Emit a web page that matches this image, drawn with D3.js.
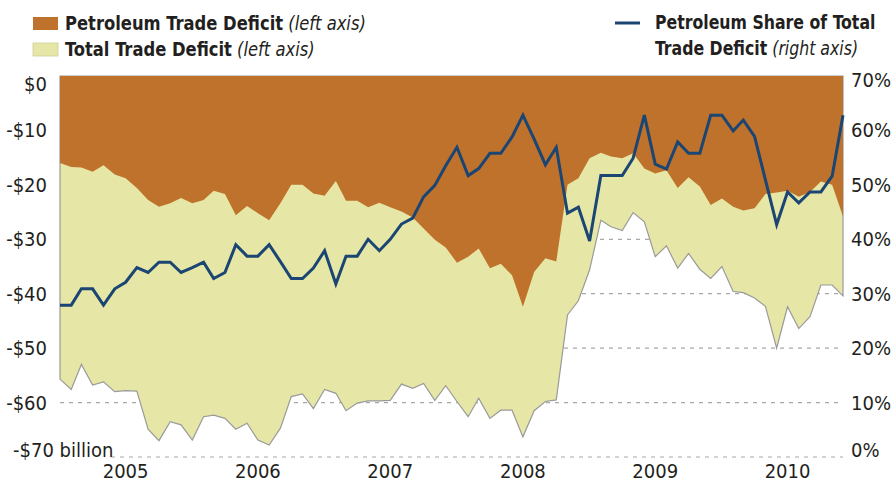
<!DOCTYPE html>
<html>
<head>
<meta charset="utf-8">
<script src="https://cdn.jsdelivr.net/npm/d3@7"></script>
<style>
  html, body { margin: 0; padding: 0; background: #fff; }
  svg text { font-family: "DejaVu Sans Condensed", "Liberation Sans Narrow", sans-serif; fill: #231f20; }
</style>
</head>
<body>
<svg id="chart" width="895" height="490"></svg>
<script>
// Monthly data, Jan 2005 – Dec 2010 (billions of dollars, negative = deficit)
const startYear = 2005;
const petroleumDeficit = [
  -16.0, -16.7, -16.8, -17.6, -16.4, -18.1, -18.8, -20.6, -22.8, -24.0, -23.4, -22.4,
  -23.4, -22.8, -21.1, -21.7, -25.6, -23.9, -25.2, -26.5, -23.4, -20.0, -20.0, -21.6,
  -22.0, -19.3, -22.9, -22.9, -24.1, -23.3, -24.1, -24.9, -26.0, -28.0, -30.1, -31.5,
  -34.3, -33.2, -31.7, -35.3, -34.5, -36.6, -42.4, -36.0, -33.5, -34.1, -20.0, -18.8,
  -15.1, -14.1, -14.8, -15.1, -14.2, -17.0, -17.9, -17.3, -20.6, -18.6, -20.3, -23.7,
  -22.5, -24.0, -24.7, -24.3, -21.7, -21.4, -21.1, -22.2, -21.3, -19.4, -20.0, -25.8
];
const totalDeficit = [
  -55.7, -57.6, -53.0, -56.8, -56.2, -58.0, -57.8, -57.9, -64.9, -67.0, -63.5, -64.1,
  -66.9, -62.6, -62.3, -62.9, -64.9, -63.8, -66.9, -67.8, -64.7, -58.9, -58.4, -61.1,
  -57.6, -58.3, -61.5, -60.1, -59.7, -59.7, -59.6, -56.6, -57.4, -56.5, -59.6, -56.9,
  -59.8, -62.6, -59.2, -62.9, -61.4, -61.4, -66.3, -61.5, -59.8, -59.5, -43.9, -41.3,
  -35.6, -26.5, -27.7, -28.4, -25.1, -26.8, -33.2, -31.2, -35.3, -32.6, -35.5, -37.2,
  -35.0, -39.6, -39.8, -40.8, -42.3, -50.0, -42.4, -46.4, -44.2, -38.4, -38.4, -40.4
];
const petroleumShare = [
  27.9, 27.9, 30.9, 30.9, 27.9, 30.9, 32.1, 34.8, 33.9, 35.8, 35.8, 33.9,
  34.8, 35.8, 32.8, 33.9, 39.0, 36.9, 36.9, 39.0, 35.9, 32.8, 32.8, 34.7,
  37.9, 31.8, 36.9, 36.9, 40.0, 37.9, 40.0, 42.8, 43.9, 47.8, 49.9, 53.5,
  56.9, 51.7, 53.0, 55.8, 55.8, 58.8, 62.8, 58.4, 53.7, 56.9, 44.8, 45.9,
  39.7, 51.7, 51.7, 51.7, 54.9, 62.8, 53.8, 52.9, 57.9, 55.8, 55.8, 62.8,
  62.8, 59.9, 61.9, 58.9, 50.9, 42.7, 48.7, 46.7, 48.7, 48.7, 51.6, 62.8
];
const leftTicks = [0, -10, -20, -30, -40, -50, -60, -70];
const leftTickLabels = ["$0", "-$10", "-$20", "-$30", "-$40", "-$50", "-$60", "-$70 billion"];
const rightTicks = [70, 60, 50, 40, 30, 20, 10, 0];
const rightTickLabels = ["70%", "60%", "50%", "40%", "30%", "20%", "10%", "0%"];
const yearLabels = ["2005", "2006", "2007", "2008", "2009", "2010"];

const COLORS = { petroleum: "#bf722b", total: "#e6e7a7", line: "#1b4572", grid: "#a8a8a8", edge: "#9a9a9a" };

const data = petroleumDeficit.map((p, i) => ({
  date: new Date(startYear, i, 1),
  petroleum: p,
  total: totalDeficit[i],
  share: petroleumShare[i]
}));

const svg = d3.select("#chart");
const m = { left: 60, right: 843, top: 76, bottom: 457 };

const x = d3.scaleTime()
  .domain([data[0].date, data[data.length - 1].date])
  .range([m.left, m.right]);
const yL = d3.scaleLinear().domain([-70, 0]).range([m.bottom, m.top]);
const yR = d3.scaleLinear().domain([0, 70]).range([m.bottom, m.top]);

// gridlines (dashed)
const gridG = svg.append("g");
rightTicks.filter(t => t < 70).forEach(t => {
  gridG.append("line")
    .attr("x1", t === 0 ? 111 : m.left).attr("x2", m.right)
    .attr("y1", yR(t)).attr("y2", yR(t))
    .attr("stroke", COLORS.grid).attr("stroke-width", 1.2)
    .attr("stroke-dasharray", "4,5");
});

// total area
const areaTotal = d3.area()
  .x(d => x(d.date)).y0(yL(0)).y1(d => yL(d.total));
svg.append("path").datum(data)
  .attr("d", areaTotal)
  .attr("fill", COLORS.total)
  .attr("stroke", COLORS.edge).attr("stroke-width", 1.2);

// petroleum area
const areaPet = d3.area()
  .x(d => x(d.date)).y0(yL(0)).y1(d => yL(d.petroleum));
svg.append("path").datum(data)
  .attr("d", areaPet)
  .attr("fill", COLORS.petroleum);

// share line
const line = d3.line().x(d => x(d.date)).y(d => yR(d.share));
svg.append("path").datum(data)
  .attr("d", line)
  .attr("fill", "none")
  .attr("stroke", COLORS.line).attr("stroke-width", 3)
  .attr("stroke-linejoin", "miter");

// left axis labels
const fs = 20;
leftTicks.forEach((t, i) => {
  let yy = yL(t) + 7;
  if (i === 0) yy = yL(t) + 15;
  if (i === leftTicks.length - 1) {
    svg.append("text").attr("x", 13).attr("y", yL(t)).attr("font-size", fs)
      .attr("text-anchor", "start").text(leftTickLabels[i]);
  } else {
    svg.append("text").attr("x", 47).attr("y", yy).attr("font-size", fs)
      .attr("text-anchor", "end").text(leftTickLabels[i]);
  }
});

// right axis labels
rightTicks.forEach((t, i) => {
  let yy = yR(t) + 7;
  if (t === 70) yy = yR(t) + 11;
  if (t === 0) yy = yR(t);
  svg.append("text").attr("x", 851).attr("y", yy).attr("font-size", fs)
    .attr("text-anchor", "start").text(rightTickLabels[i]);
});

// year labels centered at July
yearLabels.forEach((lab, i) => {
  svg.append("text")
    .attr("x", x(new Date(startYear + i, 6, 1)))
    .attr("y", 478).attr("font-size", fs)
    .attr("text-anchor", "middle").text(lab);
});

// legend
const lg = svg.append("g");
lg.append("rect").attr("x", 33).attr("y", 17).attr("width", 25).attr("height", 13)
  .attr("fill", COLORS.petroleum);
lg.append("rect").attr("x", 33).attr("y", 43).attr("width", 25).attr("height", 13)
  .attr("fill", COLORS.total).attr("stroke", "#cfcf9a").attr("stroke-width", 0.8);
function legendText(xp, yp, sx, bold, ital) {
  const g = lg.append("g").attr("transform", `translate(${xp},${yp}) scale(${sx},1)`);
  const t = g.append("text").attr("x", 0).attr("y", 0).attr("font-size", fs);
  t.append("tspan").attr("font-weight", "bold").text(bold);
  if (ital) t.append("tspan").attr("font-style", "italic").text(" " + ital);
}
legendText(65, 30, 0.91, "Petroleum Trade Deficit", "(left axis)");
legendText(65, 56, 0.91, "Total Trade Deficit", "(left axis)");
lg.append("line").attr("x1", 615).attr("x2", 640).attr("y1", 23).attr("y2", 23)
  .attr("stroke", COLORS.line).attr("stroke-width", 3);
legendText(655, 29, 0.875, "Petroleum Share of Total", null);
legendText(655, 55, 0.875, "Trade Deficit", "(right axis)");
</script>
</body>
</html>
